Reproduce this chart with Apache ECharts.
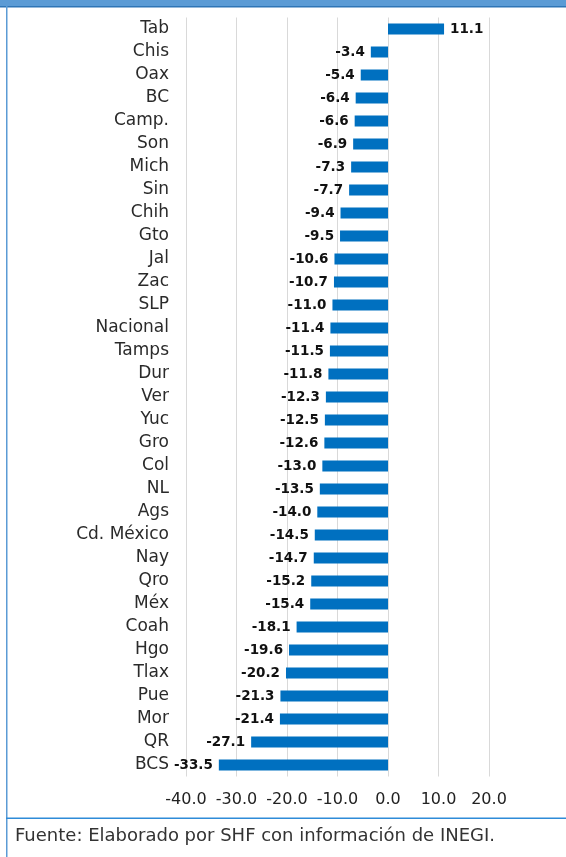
<!DOCTYPE html>
<html>
<head>
<meta charset="utf-8">
<script src="https://cdn.jsdelivr.net/npm/echarts@6/dist/echarts.min.js"></script>
<style>
  html, body { margin: 0; padding: 0; background: #fff; }
  #chart { width: 566px; height: 857px; }
</style>
</head>
<body>
<div id="chart"></div>
<script>
// categorias (de arriba hacia abajo)
const estados = ['Tab', 'Chis', 'Oax', 'BC', 'Camp.', 'Son', 'Mich', 'Sin', 'Chih', 'Gto',
  'Jal', 'Zac', 'SLP', 'Nacional', 'Tamps', 'Dur', 'Ver', 'Yuc', 'Gro', 'Col',
  'NL', 'Ags', 'Cd. México', 'Nay', 'Qro', 'Méx', 'Coah', 'Hgo', 'Tlax', 'Pue',
  'Mor', 'QR', 'BCS']
const variacion = [11.1, -3.4, -5.4, -6.4, -6.6, -6.9, -7.3, -7.7, -9.4, -9.5,
  -10.6, -10.7, -11.0, -11.4, -11.5, -11.8, -12.3, -12.5, -12.6, -13.0,
  -13.5, -14.0, -14.5, -14.7, -15.2, -15.4, -18.1, -19.6, -20.2, -21.3,
  -21.4, -27.1, -33.5]
const ejeX = { min: -40, max: 20, interval: 10 }
const fuente = 'Fuente: Elaborado por SHF con información de INEGI.'

const chart = echarts.init(document.getElementById('chart'))

const barData = variacion.map(v => ({
  value: v,
  label: { position: v < 0 ? 'left' : 'right' }
}))

const option = {
  animation: false,
  textStyle: { fontFamily: 'DejaVu Sans' },
  grid: { left: 186, right: 77, top: 17.5, bottom: 80.5 },
  xAxis: {
    type: 'value',
    min: ejeX.min,
    max: ejeX.max,
    interval: ejeX.interval,
    axisLine: { show: false },
    axisTick: { show: false },
    splitLine: { show: true, lineStyle: { color: '#D9D9D9', width: 1 } },
    axisLabel: {
      color: '#222',
      fontSize: 16,
      margin: 15,
      formatter: v => v.toFixed(1)
    }
  },
  yAxis: {
    type: 'category',
    inverse: true,
    data: estados,
    axisLine: { show: false, onZero: false },
    axisTick: { show: false },
    axisLabel: { interval: 0, color: '#2a2a2a', fontSize: 17, margin: 17 }
  },
  series: [
    {
      type: 'bar',
      data: barData,
      barWidth: 11,
      itemStyle: { color: '#0070C0' },
      label: {
        show: true,
        distance: 6,
        color: '#111',
        fontWeight: 'bold',
        fontSize: 13.5,
        formatter: p => p.value.toFixed(1)
      }
    }
  ],
  graphic: [
    // franja superior
    { type: 'rect', shape: { x: 0, y: 0, width: 566, height: 6 }, style: { fill: '#5B9BD5' } },
    { type: 'rect', shape: { x: 0, y: 6, width: 566, height: 1.5 }, style: { fill: '#2E75B6' } },
    // borde izquierdo
    { type: 'rect', shape: { x: 6, y: 6, width: 1.5, height: 851 }, style: { fill: '#5B9BD5' } },
    // separador de la fuente
    { type: 'rect', shape: { x: 6, y: 817.5, width: 560, height: 1.5 }, style: { fill: '#2E8BD8' } },
    {
      type: 'text',
      left: 15,
      top: 827,
      style: { text: fuente, fill: '#333', fontSize: 18, fontFamily: 'DejaVu Sans' }
    }
  ]
}

chart.setOption(option)
</script>
</body>
</html>
